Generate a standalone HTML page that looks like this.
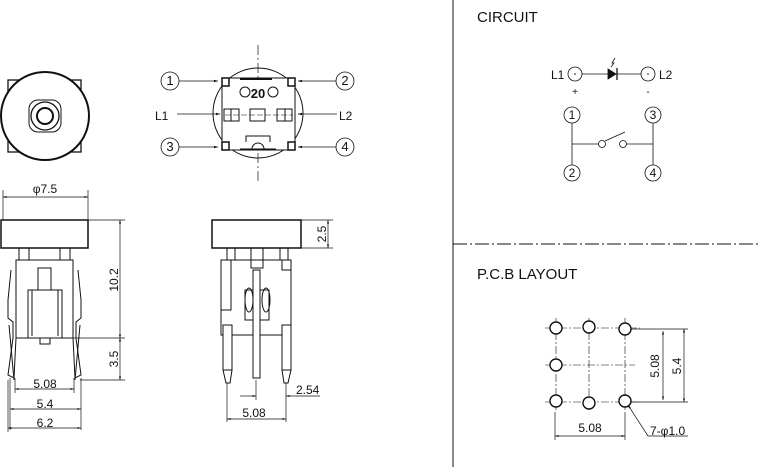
<!DOCTYPE html>
<html><head><meta charset="utf-8"><style>
html,body{margin:0;padding:0;background:#fff;}
svg{display:block;}
text{font-family:"Liberation Sans",sans-serif;fill:#111;}
</style></head><body>
<svg width="760" height="467" viewBox="0 0 760 467" xmlns="http://www.w3.org/2000/svg">
<defs>
<marker id="a" viewBox="0 0 10 10" refX="10" refY="5" markerWidth="7" markerHeight="5" orient="auto-start-reverse"><path d="M0,2 L10,5 L0,8 z" fill="#111"/></marker>
</defs>
<g stroke="#111" fill="none" stroke-width="1">
<line x1="453" y1="0" x2="453" y2="467"/>
<line x1="453" y1="244" x2="760" y2="244" stroke-dasharray="14,3,2,3"/>

<rect x="8" y="80" width="73" height="72" stroke-width="1.3"/>
<circle cx="45" cy="116" r="44" fill="#fff" stroke-width="2"/>
<rect x="29" y="100" width="32" height="32" rx="9"/>
<circle cx="45" cy="116" r="14" stroke-width="1.3"/>
<circle cx="45" cy="116" r="8" stroke-width="2"/>

<line x1="3" y1="197" x2="88" y2="197" marker-start="url(#a)" marker-end="url(#a)" stroke-width="0.7"/>
<line x1="3" y1="190" x2="3" y2="220" stroke-width="0.7"/>
<line x1="88" y1="190" x2="88" y2="220" stroke-width="0.7"/>

<rect x="1" y="220" width="87" height="28" stroke-width="1.5"/>
<rect x="19" y="248" width="10" height="12"/><rect x="60" y="248" width="10" height="12"/>
<path d="M16,260 H73 V338 H16 Z"/>
<rect x="38" y="268" width="13" height="22"/>
<path d="M28,290 H62 V338 H28 Z"/><path d="M32,290 V336 M58,290 V336"/>
<path d="M24,338 H66 M40,338 V344 H50 V338"/>
<path d="M11,270 L8,300 V318 L13,322 V338 L8,375 L14,378 L16,338"/>
<path d="M78,270 L81,300 V318 L76,322 V338 L81,375 L75,378 L73,338"/>
<path d="M9,325 L14,380 M80,325 L75,380"/>

<g stroke-width="0.7">
<line x1="88" y1="220" x2="125" y2="220"/>
<line x1="70" y1="338" x2="125" y2="338"/>
<line x1="80" y1="380" x2="125" y2="380"/>
<line x1="120" y1="220" x2="120" y2="338" marker-start="url(#a)" marker-end="url(#a)"/>
<line x1="120" y1="338" x2="120" y2="380" marker-start="url(#a)" marker-end="url(#a)"/>
<line x1="15" y1="378" x2="15" y2="393"/><line x1="74" y1="378" x2="74" y2="393"/>
<line x1="15" y1="389" x2="74" y2="389" marker-start="url(#a)" marker-end="url(#a)"/>
<line x1="10" y1="378" x2="10" y2="430"/><line x1="81" y1="378" x2="81" y2="430"/>
<line x1="10" y1="409" x2="81" y2="409" marker-start="url(#a)" marker-end="url(#a)"/>
<line x1="8" y1="380" x2="8" y2="432"/>
<line x1="8" y1="428" x2="81" y2="428" marker-start="url(#a)" marker-end="url(#a)"/>
</g>

<line x1="258" y1="45" x2="258" y2="182" stroke-dasharray="10,3,2,3" stroke-width="0.7"/>
<circle cx="258" cy="113" r="45"/>
<rect x="222" y="78" width="73" height="72" fill="#fff"/>
<rect x="222" y="78" width="7" height="8" stroke-width="1.5"/><rect x="288" y="78" width="7" height="8" stroke-width="1.5"/>
<rect x="222" y="142" width="7" height="8" stroke-width="1.5"/><rect x="288" y="142" width="7" height="8" stroke-width="1.5"/>
<path d="M240,79 H272" stroke-width="2"/>
<circle cx="245" cy="92" r="5"/><circle cx="273" cy="92" r="5"/>
<rect x="224" y="109" width="15" height="12"/><line x1="231" y1="109" x2="231" y2="121"/>
<rect x="250" y="109" width="15" height="12"/>
<rect x="277" y="109" width="15" height="12"/><line x1="285" y1="109" x2="285" y2="121"/>
<path d="M246,142 V136 H270 V142 M240,149 H276 M252,149 A6,6 0 0 1 264,149" />
<line x1="225" y1="115" x2="293" y2="115" stroke-dasharray="6,2" stroke-width="0.6"/>
<g stroke-width="0.8">
<circle cx="170" cy="81" r="9"/><circle cx="345" cy="81" r="9"/>
<circle cx="170" cy="147" r="9"/><circle cx="345" cy="147" r="9"/>
<line x1="179" y1="81" x2="218" y2="81" marker-end="url(#a)"/>
<line x1="336" y1="81" x2="298" y2="81" marker-end="url(#a)"/>
<line x1="179" y1="147" x2="218" y2="147" marker-end="url(#a)"/>
<line x1="336" y1="147" x2="298" y2="147" marker-end="url(#a)"/>
<line x1="177" y1="114" x2="220" y2="114" marker-end="url(#a)"/>
<line x1="337" y1="114" x2="298" y2="114" marker-end="url(#a)"/>
</g>

<rect x="212" y="220" width="89" height="28" stroke-width="1.5"/>
<rect x="227" y="248" width="8" height="12"/><rect x="280" y="248" width="8" height="12"/>
<rect x="251" y="248" width="12" height="20"/>
<path d="M221,260 H291 V335 H221 Z"/>
<path d="M231,260 V310 H221"/><path d="M282,260 V270 H291"/>
<rect x="245" y="290" width="24" height="30"/>
<ellipse cx="249" cy="300" rx="4" ry="12"/><ellipse cx="266" cy="300" rx="4" ry="12"/>
<rect x="223" y="325" width="9" height="45" fill="#fff"/><path d="M223,370 L226,383 H230 L232,370"/>
<rect x="282" y="325" width="9" height="45" fill="#fff"/><path d="M282,370 L284,383 H288 L291,370"/>
<rect x="253" y="270" width="7" height="108" fill="#fff"/>
<g stroke-width="0.7">
<line x1="301" y1="220" x2="333" y2="220"/><line x1="301" y1="248" x2="333" y2="248"/>
<line x1="328" y1="220" x2="328" y2="248" marker-start="url(#a)" marker-end="url(#a)"/>
<line x1="227" y1="383" x2="227" y2="422"/><line x1="256" y1="380" x2="256" y2="400"/><line x1="286" y1="383" x2="286" y2="422"/>
<line x1="240" y1="396" x2="256" y2="396" marker-end="url(#a)"/>
<line x1="320" y1="396" x2="286" y2="396" marker-end="url(#a)"/>
<line x1="227" y1="419" x2="286" y2="419" marker-start="url(#a)" marker-end="url(#a)"/>
</g>

<g stroke-width="0.8">
<circle cx="575" cy="74" r="7"/><circle cx="648" cy="74" r="7"/>
<line x1="582" y1="74" x2="641" y2="74"/>
<path d="M608,69 L616,74 L608,79 Z" fill="#111"/><line x1="617" y1="68" x2="617" y2="80" stroke-width="1.3"/>
<path d="M615,58 L612,63 L614,63 L611,67"/>
<circle cx="572" cy="115" r="8"/><circle cx="653" cy="115" r="8"/>
<circle cx="572" cy="173" r="8"/><circle cx="653" cy="173" r="8"/>
<line x1="572" y1="123" x2="572" y2="165"/><line x1="653" y1="123" x2="653" y2="165"/>
<line x1="572" y1="144" x2="599" y2="144"/><circle cx="602" cy="144" r="3.5"/>
<line x1="605" y1="141" x2="625" y2="132"/>
<circle cx="623" cy="144" r="3.5"/><line x1="627" y1="144" x2="653" y2="144"/>
</g>
<circle cx="575" cy="74" r="0.8" fill="#111" stroke="none"/><circle cx="648" cy="74" r="0.8" fill="#111" stroke="none"/>

<g stroke-width="0.6" stroke-dasharray="8,2,2,2">
<line x1="545" y1="328" x2="640" y2="328"/><line x1="545" y1="365" x2="635" y2="365"/><line x1="545" y1="402" x2="640" y2="402"/>
<line x1="556" y1="318" x2="556" y2="412"/><line x1="589" y1="318" x2="589" y2="412"/><line x1="625" y1="318" x2="625" y2="412"/>
</g>
<g stroke-width="1.4" fill="#fff">
<circle cx="556" cy="328" r="6"/><circle cx="589" cy="327" r="6"/><circle cx="625" cy="329" r="6"/>
<circle cx="556" cy="365" r="6"/>
<circle cx="556" cy="401" r="6"/><circle cx="589" cy="403" r="6"/><circle cx="625" cy="401" r="6"/>
</g>
<g stroke-width="0.7">
<line x1="631" y1="329" x2="688" y2="329"/><line x1="631" y1="402" x2="688" y2="402"/>
<line x1="663" y1="331" x2="663" y2="400" marker-start="url(#a)" marker-end="url(#a)"/>
<line x1="684" y1="329" x2="684" y2="402" marker-start="url(#a)" marker-end="url(#a)"/>
<line x1="555" y1="412" x2="555" y2="440"/><line x1="625" y1="412" x2="625" y2="440"/>
<line x1="555" y1="436" x2="625" y2="436" marker-start="url(#a)" marker-end="url(#a)"/>
<line x1="648" y1="436" x2="628" y2="405" marker-end="url(#a)"/><line x1="648" y1="436" x2="688" y2="436"/>
</g>
</g>

<g font-size="12">
<text x="45" y="193" text-anchor="middle">φ7.5</text>
<text x="170" y="85" text-anchor="middle" font-size="13">1</text>
<text x="345" y="85" text-anchor="middle" font-size="13">2</text>
<text x="170" y="151" text-anchor="middle" font-size="13">3</text>
<text x="345" y="151" text-anchor="middle" font-size="13">4</text>
<text x="155" y="120">L1</text>
<text x="339" y="120">L2</text>
<text x="258" y="98" text-anchor="middle" font-size="13" font-weight="bold" fill="#999">20</text>
<text x="45" y="388" text-anchor="middle">5.08</text>
<text x="45" y="408" text-anchor="middle">5.4</text>
<text x="45" y="427" text-anchor="middle">6.2</text>
<text transform="translate(118,280) rotate(-90)" text-anchor="middle">10.2</text>
<text transform="translate(118,359) rotate(-90)" text-anchor="middle">3.5</text>
<text transform="translate(326,234) rotate(-90)" text-anchor="middle">2.5</text>
<text x="296" y="394">2.54</text>
<text x="254" y="417" text-anchor="middle">5.08</text>
<text x="477" y="22" font-size="15">CIRCUIT</text>
<text x="477" y="279" font-size="15">P.C.B LAYOUT</text>
<text x="551" y="79">L1</text>
<text x="659" y="79">L2</text>
<text x="575" y="95" text-anchor="middle" font-size="10">+</text>
<text x="648" y="95" text-anchor="middle" font-size="10">-</text>
<text x="572" y="119" text-anchor="middle">1</text>
<text x="653" y="119" text-anchor="middle">3</text>
<text x="572" y="177" text-anchor="middle">2</text>
<text x="653" y="177" text-anchor="middle">4</text>
<text x="590" y="432" text-anchor="middle">5.08</text>
<text x="650" y="435">7-φ1.0</text>
<text transform="translate(659,366) rotate(-90)" text-anchor="middle">5.08</text>
<text transform="translate(681,366) rotate(-90)" text-anchor="middle">5.4</text>
</g>
</svg>
</body></html>
